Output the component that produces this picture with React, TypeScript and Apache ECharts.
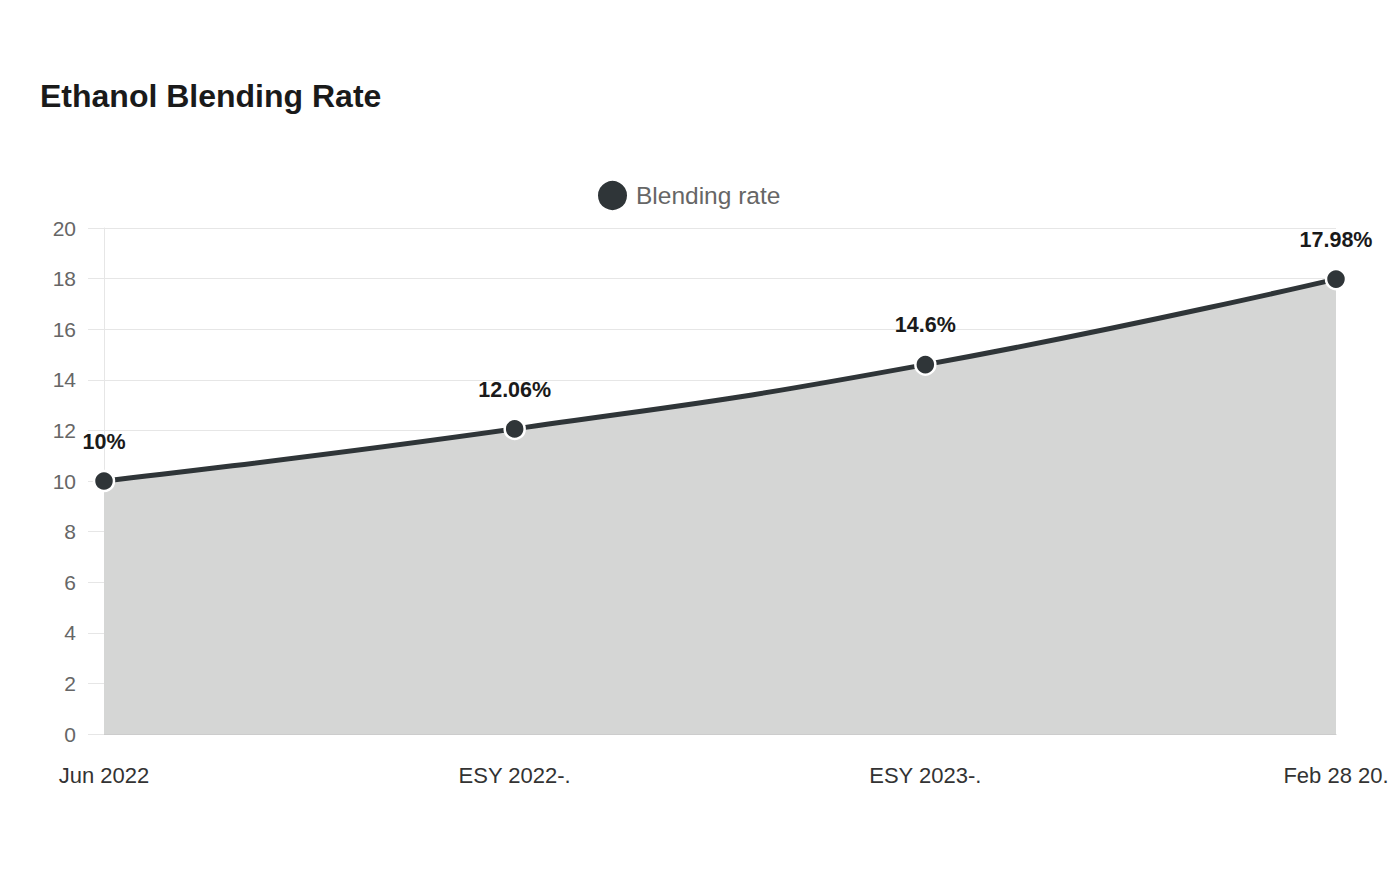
import React, { useEffect, useRef } from "react";
import * as echarts from "echarts";

const categories = ["Jun 2022", "ESY 2022-.", "ESY 2023-.", "Feb 28 20."];
const blendingRate = [10, 12.06, 14.6, 17.98];
const yTicks = { min: 0, max: 20, interval: 2 };

const FONT = "'Liberation Sans', Arial, sans-serif";

export default function App() {
  const ref = useRef<HTMLDivElement>(null);

  useEffect(() => {
    if (!ref.current) return;
    const chart = echarts.init(ref.current, null, { renderer: "svg" });
    chart.setOption({
      animation: false,
      textStyle: { fontFamily: FONT },
      title: {
        text: "Ethanol Blending Rate",
        left: 27,
        top: 67,
        textStyle: { fontSize: 32, fontWeight: "bold", color: "#1a1a1a", fontFamily: FONT },
      },
      legend: {
        top: 166,
        left: 583,
        itemWidth: 31,
        itemHeight: 31,
        icon: "circle",
        textStyle: { fontSize: 24.5, color: "#666", fontFamily: FONT, padding: [0, 0, 0, 3] },
        data: ["Blending rate"],
      },
      grid: { left: 96, right: 56, top: 220, bottom: 138 },
      xAxis: {
        type: "category",
        data: categories,
        boundaryGap: false,
        axisLine: { lineStyle: { color: "#ccc" } },
        axisTick: { show: false },
        axisLabel: { fontSize: 22, color: "#333", margin: 30, fontFamily: FONT },
      },
      yAxis: {
        type: "value",
        min: yTicks.min,
        max: yTicks.max,
        interval: yTicks.interval,
        axisLine: { show: true, lineStyle: { color: "#e6e6e6" } },
        axisTick: { show: true, length: 16, lineStyle: { color: "#e6e6e6" } },
        axisLabel: { fontSize: 21, color: "#666", margin: 28, fontFamily: FONT },
        splitLine: { lineStyle: { color: "#e6e6e6" } },
      },
      series: [
        {
          name: "Blending rate",
          type: "line",
          data: blendingRate,
          smooth: true,
          symbol: "circle",
          symbolSize: 20,
          color: "#2f3538",
          lineStyle: { width: 5, color: "#2f3538" },
          itemStyle: { color: "#2f3538", borderColor: "#fff", borderWidth: 2.5 },
          areaStyle: { color: "#d5d6d5", opacity: 1 },
          label: {
            show: true,
            position: "top",
            distance: 17,
            formatter: "{c}%",
            fontSize: 21.5,
            fontWeight: "bold",
            color: "#1a1a1a",
            fontFamily: FONT,
          },
        },
      ],
    });
    return () => chart.dispose();
  }, []);

  return <div ref={ref} style={{ width: 1384, height: 864 }} />;
}
